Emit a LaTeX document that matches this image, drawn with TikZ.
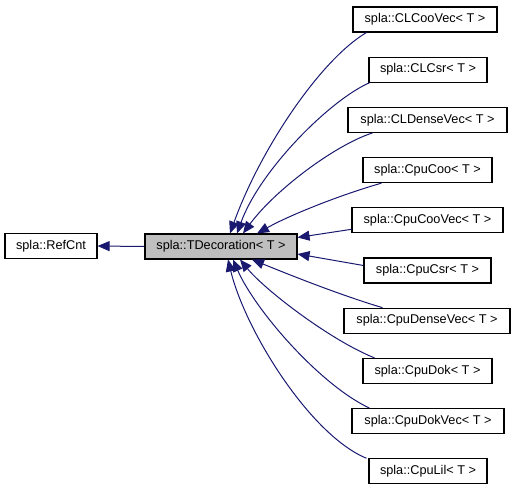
\documentclass[tikz,border=0pt]{standalone}
\usepackage{fontspec}
\setmainfont{Liberation Sans}
\usetikzlibrary{arrows.meta,calc}
\definecolor{edgeblue}{HTML}{191970}
\definecolor{basegray}{HTML}{BFBFBF}
\tikzset{
  cls/.style={draw=black, line width=1.1pt, fill=white, minimum height=25pt, inner sep=0pt, font=\fontsize{12.7pt}{14pt}\selectfont},
  cur/.style={cls, fill=basegray},
  inh/.style={draw=edgeblue, line width=1pt, -{Triangle[length=12pt,width=10pt,fill=edgeblue]}},
}
\begin{document}
\begin{tikzpicture}[x=1pt,y=-1pt]
\useasboundingbox (0,0) rectangle (516,493);
\node[cls, minimum width=92pt] (refcnt) at (51,246) {spla::RefCnt};
\node[cur, minimum width=152pt] (tdec) at (221,246.5) {spla::TDecoration< T >};
\node[cls, minimum width=144pt] (clcoovec) at (425,19.5) {spla::CLCooVec< T >};
\node[cls, minimum width=118pt] (clcsr) at (428,69.7) {spla::CLCsr< T >};
\node[cls, minimum width=159pt] (cldensevec) at (427.5,119.9) {spla::CLDenseVec< T >};
\node[cls, minimum width=129pt] (cpucoo) at (427.5,170.1) {spla::CpuCoo< T >};
\node[cls, minimum width=151pt] (cpucoovec) at (427.5,220.3) {spla::CpuCooVec< T >};
\node[cls, minimum width=127pt] (cpucsr) at (427.5,270.5) {spla::CpuCsr< T >};
\node[cls, minimum width=166pt] (cpudensevec) at (427,320.7) {spla::CpuDenseVec< T >};
\node[cls, minimum width=129pt] (cpudok) at (427.5,370.9) {spla::CpuDok< T >};
\node[cls, minimum width=152pt] (cpudokvec) at (428,421.1) {spla::CpuDokVec< T >};
\node[cls, minimum width=118pt] (cpulil) at (428,471.3) {spla::CpuLil< T >};

\draw[inh] (tdec.west) -- (refcnt.east);
\draw[inh] ($(clcoovec.south west)+(14,0)$) .. controls (320,60) and (260,150) .. ($(tdec.north)+(9,0)$);
\draw[inh] ($(clcsr.south west)+(1,0)$) .. controls (330,100) and (260,170) .. ($(tdec.north)+(16,0)$);
\draw[inh] ($(cldensevec.south west)+(25,0)$) .. controls (335,145) and (275,190) .. ($(tdec.north)+(22,0)$);
\draw[inh] ($(cpucoo.south west)+(19,0)$) .. controls (340,195) and (290,215) .. ($(tdec.north)+(36,0)$);
\draw[inh] ($(cpucoovec.west)+(0,9)$) -- ($(tdec.east)+(0,-9)$);
\draw[inh] ($(cpucsr.west)+(0,-5)$) -- ($(tdec.east)+(0,7.5)$);
\draw[inh] ($(cpudensevec.north west)+(39,0)$) .. controls (340,295) and (290,275) .. ($(tdec.south)+(31,0)$);
\draw[inh] ($(cpudok.north west)+(12,0)$) .. controls (330,340) and (265,290) .. ($(tdec.south)+(19,0)$);
\draw[inh] ($(cpudokvec.north west)+(18,0)$) .. controls (320,385) and (255,310) .. ($(tdec.south)+(12,0)$);
\draw[inh] ($(cpulil.north west)+(-2,0)$) .. controls (310,435) and (245,330) .. ($(tdec.south)+(7,0)$);
\end{tikzpicture}
\end{document}
